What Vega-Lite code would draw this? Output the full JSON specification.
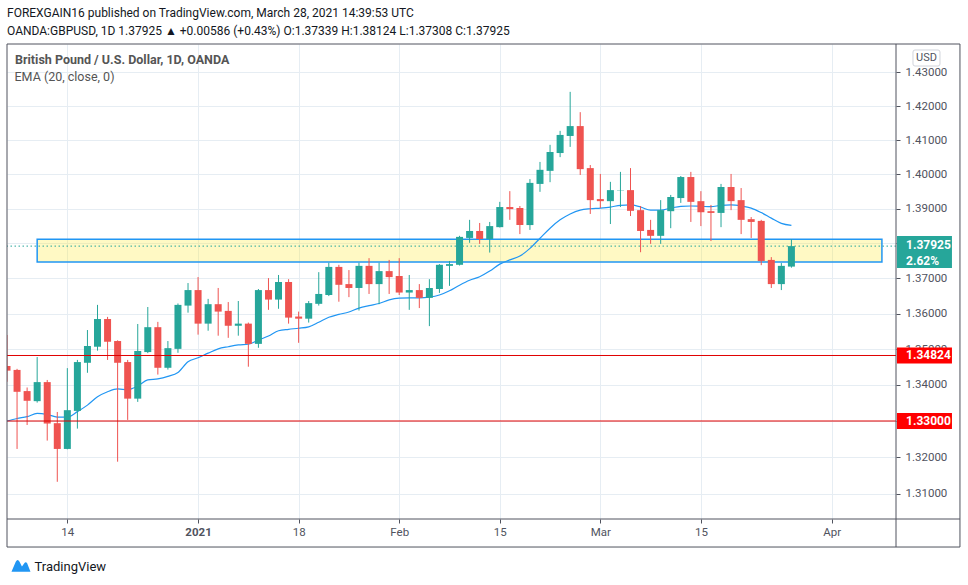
{
  "$schema": "https://vega.github.io/schema/vega-lite/v6.json",
  "width": 889,
  "height": 475,
  "autosize": {"type": "none"},
  "padding": {"left": 7, "top": 44, "right": 72, "bottom": 66},
  "background": "#ffffff",
  "config": {"view": {"stroke": null}, "font": "Roboto"},
  "title": {
    "text": "FOREXGAIN16 published on TradingView.com, March 28, 2021 14:39:53 UTC",
    "subtitle": "OANDA:GBPUSD, 1D  1.37925 ▲ +0.00586 (+0.43%) O:1.37339 H:1.38124 L:1.37308 C:1.37925",
    "anchor": "start",
    "frame": "group",
    "offset": 6,
    "font": "Roboto",
    "fontSize": 12,
    "fontWeight": "normal",
    "color": "#131722",
    "subtitleFont": "Roboto",
    "subtitleFontSize": 12,
    "subtitleFontWeight": "normal",
    "subtitleColor": "#131722",
    "subtitlePadding": 6
  },
  "datasets": {
    "zone": [{"start": -3, "end": 81, "low": 1.3747, "high": 1.3812}],
    "hlines": [{"level": 1.34824}, {"level": 1.33}],
    "tags": [{"price": 1.34824, "text": "1.34824"}, {"price": 1.33, "text": "1.33000"}],
    "one": [{}],
    "candles": [
      {"date": "2020-12-04", "i": -6, "open": 1.3453, "high": 1.3540, "low": 1.3409, "close": 1.3440},
      {"date": "2020-12-07", "i": -5, "open": 1.3442, "high": 1.3445, "low": 1.3223, "close": 1.3381},
      {"date": "2020-12-08", "i": -4, "open": 1.3383, "high": 1.3393, "low": 1.3289, "close": 1.3356},
      {"date": "2020-12-09", "i": -3, "open": 1.3355, "high": 1.3478, "low": 1.3351, "close": 1.3408},
      {"date": "2020-12-10", "i": -2, "open": 1.3408, "high": 1.3414, "low": 1.3246, "close": 1.3293},
      {"date": "2020-12-11", "i": -1, "open": 1.3294, "high": 1.3325, "low": 1.3133, "close": 1.3223},
      {"date": "2020-12-14", "i": 0, "open": 1.3223, "high": 1.3447, "low": 1.3222, "close": 1.3330},
      {"date": "2020-12-15", "i": 1, "open": 1.3328, "high": 1.3470, "low": 1.3279, "close": 1.3464},
      {"date": "2020-12-16", "i": 2, "open": 1.3462, "high": 1.3554, "low": 1.3434, "close": 1.3509},
      {"date": "2020-12-17", "i": 3, "open": 1.3507, "high": 1.3625, "low": 1.3496, "close": 1.3585},
      {"date": "2020-12-18", "i": 4, "open": 1.3585, "high": 1.3591, "low": 1.3470, "close": 1.3521},
      {"date": "2020-12-21", "i": 5, "open": 1.3523, "high": 1.3525, "low": 1.3188, "close": 1.3462},
      {"date": "2020-12-22", "i": 6, "open": 1.3464, "high": 1.3470, "low": 1.3303, "close": 1.3362},
      {"date": "2020-12-23", "i": 7, "open": 1.3362, "high": 1.3571, "low": 1.3353, "close": 1.3495},
      {"date": "2020-12-24", "i": 8, "open": 1.3492, "high": 1.3619, "low": 1.3489, "close": 1.3562},
      {"date": "2020-12-28", "i": 9, "open": 1.3562, "high": 1.3577, "low": 1.3429, "close": 1.3448},
      {"date": "2020-12-29", "i": 10, "open": 1.3448, "high": 1.3523, "low": 1.3443, "close": 1.3503},
      {"date": "2020-12-30", "i": 11, "open": 1.3501, "high": 1.3629, "low": 1.3490, "close": 1.3625},
      {"date": "2020-12-31", "i": 12, "open": 1.3623, "high": 1.3687, "low": 1.3603, "close": 1.3667},
      {"date": "2021-01-04", "i": 13, "open": 1.3667, "high": 1.3704, "low": 1.3541, "close": 1.3572},
      {"date": "2021-01-05", "i": 14, "open": 1.3572, "high": 1.3642, "low": 1.3552, "close": 1.3627},
      {"date": "2021-01-06", "i": 15, "open": 1.3627, "high": 1.3673, "low": 1.3538, "close": 1.3606},
      {"date": "2021-01-07", "i": 16, "open": 1.3608, "high": 1.3633, "low": 1.3532, "close": 1.3566},
      {"date": "2021-01-08", "i": 17, "open": 1.3566, "high": 1.3636, "low": 1.3538, "close": 1.3572},
      {"date": "2021-01-11", "i": 18, "open": 1.3572, "high": 1.3575, "low": 1.3451, "close": 1.3515},
      {"date": "2021-01-12", "i": 19, "open": 1.3515, "high": 1.3670, "low": 1.3504, "close": 1.3667},
      {"date": "2021-01-13", "i": 20, "open": 1.3667, "high": 1.3701, "low": 1.3611, "close": 1.3640},
      {"date": "2021-01-14", "i": 21, "open": 1.3640, "high": 1.3710, "low": 1.3614, "close": 1.3690},
      {"date": "2021-01-15", "i": 22, "open": 1.3690, "high": 1.3698, "low": 1.3572, "close": 1.3589},
      {"date": "2021-01-18", "i": 23, "open": 1.3592, "high": 1.3606, "low": 1.3518, "close": 1.3586},
      {"date": "2021-01-19", "i": 24, "open": 1.3586, "high": 1.3636, "low": 1.3575, "close": 1.3630},
      {"date": "2021-01-20", "i": 25, "open": 1.3628, "high": 1.3718, "low": 1.3623, "close": 1.3656},
      {"date": "2021-01-21", "i": 26, "open": 1.3653, "high": 1.3745, "low": 1.3650, "close": 1.3733},
      {"date": "2021-01-22", "i": 27, "open": 1.3733, "high": 1.3739, "low": 1.3634, "close": 1.3682},
      {"date": "2021-01-25", "i": 28, "open": 1.3684, "high": 1.3724, "low": 1.3647, "close": 1.3673},
      {"date": "2021-01-26", "i": 29, "open": 1.3673, "high": 1.3745, "low": 1.3609, "close": 1.3736},
      {"date": "2021-01-27", "i": 30, "open": 1.3736, "high": 1.3758, "low": 1.3656, "close": 1.3684},
      {"date": "2021-01-28", "i": 31, "open": 1.3684, "high": 1.3745, "low": 1.3627, "close": 1.3721},
      {"date": "2021-01-29", "i": 32, "open": 1.3721, "high": 1.3753, "low": 1.3656, "close": 1.3704},
      {"date": "2021-02-01", "i": 33, "open": 1.3707, "high": 1.3758, "low": 1.3653, "close": 1.3660},
      {"date": "2021-02-02", "i": 34, "open": 1.3660, "high": 1.3710, "low": 1.3611, "close": 1.3667},
      {"date": "2021-02-03", "i": 35, "open": 1.3667, "high": 1.3684, "low": 1.3616, "close": 1.3645},
      {"date": "2021-02-04", "i": 36, "open": 1.3645, "high": 1.3698, "low": 1.3565, "close": 1.3673},
      {"date": "2021-02-05", "i": 37, "open": 1.3670, "high": 1.3741, "low": 1.3659, "close": 1.3739},
      {"date": "2021-02-08", "i": 38, "open": 1.3736, "high": 1.3750, "low": 1.3679, "close": 1.3741},
      {"date": "2021-02-09", "i": 39, "open": 1.3739, "high": 1.3822, "low": 1.3737, "close": 1.3819},
      {"date": "2021-02-10", "i": 40, "open": 1.3816, "high": 1.3868, "low": 1.3802, "close": 1.3836},
      {"date": "2021-02-11", "i": 41, "open": 1.3836, "high": 1.3859, "low": 1.3799, "close": 1.3813},
      {"date": "2021-02-12", "i": 42, "open": 1.3813, "high": 1.3862, "low": 1.3774, "close": 1.3850},
      {"date": "2021-02-15", "i": 43, "open": 1.3847, "high": 1.3920, "low": 1.3846, "close": 1.3905},
      {"date": "2021-02-16", "i": 44, "open": 1.3905, "high": 1.3951, "low": 1.3868, "close": 1.3899},
      {"date": "2021-02-17", "i": 45, "open": 1.3902, "high": 1.3908, "low": 1.3827, "close": 1.3853},
      {"date": "2021-02-18", "i": 46, "open": 1.3853, "high": 1.3986, "low": 1.3839, "close": 1.3975},
      {"date": "2021-02-19", "i": 47, "open": 1.3972, "high": 1.4036, "low": 1.3949, "close": 1.4013},
      {"date": "2021-02-22", "i": 48, "open": 1.4010, "high": 1.4086, "low": 1.3977, "close": 1.4065},
      {"date": "2021-02-23", "i": 49, "open": 1.4062, "high": 1.4127, "low": 1.4050, "close": 1.4115},
      {"date": "2021-02-24", "i": 50, "open": 1.4112, "high": 1.4242, "low": 1.4080, "close": 1.4141},
      {"date": "2021-02-25", "i": 51, "open": 1.4141, "high": 1.4182, "low": 1.3998, "close": 1.4015},
      {"date": "2021-02-26", "i": 52, "open": 1.4018, "high": 1.4027, "low": 1.3885, "close": 1.3925},
      {"date": "2021-03-01", "i": 53, "open": 1.3928, "high": 1.4001, "low": 1.3902, "close": 1.3922},
      {"date": "2021-03-02", "i": 54, "open": 1.3922, "high": 1.3978, "low": 1.3856, "close": 1.3954},
      {"date": "2021-03-03", "i": 55, "open": 1.3953, "high": 1.4007, "low": 1.3905, "close": 1.3954},
      {"date": "2021-03-04", "i": 56, "open": 1.3954, "high": 1.4018, "low": 1.3879, "close": 1.3894},
      {"date": "2021-03-05", "i": 57, "open": 1.3896, "high": 1.3908, "low": 1.3775, "close": 1.3836},
      {"date": "2021-03-08", "i": 58, "open": 1.3839, "high": 1.3868, "low": 1.3799, "close": 1.3822},
      {"date": "2021-03-09", "i": 59, "open": 1.3822, "high": 1.3925, "low": 1.3799, "close": 1.3896},
      {"date": "2021-03-10", "i": 60, "open": 1.3893, "high": 1.3940, "low": 1.3844, "close": 1.3934},
      {"date": "2021-03-11", "i": 61, "open": 1.3931, "high": 1.3995, "low": 1.3917, "close": 1.3992},
      {"date": "2021-03-12", "i": 62, "open": 1.3992, "high": 1.4007, "low": 1.3862, "close": 1.3920},
      {"date": "2021-03-15", "i": 63, "open": 1.3922, "high": 1.3951, "low": 1.3850, "close": 1.3890},
      {"date": "2021-03-16", "i": 64, "open": 1.3893, "high": 1.3911, "low": 1.3807, "close": 1.3888},
      {"date": "2021-03-17", "i": 65, "open": 1.3888, "high": 1.3972, "low": 1.3847, "close": 1.3963},
      {"date": "2021-03-18", "i": 66, "open": 1.3963, "high": 1.4001, "low": 1.3896, "close": 1.3922},
      {"date": "2021-03-19", "i": 67, "open": 1.3925, "high": 1.3960, "low": 1.3827, "close": 1.3868},
      {"date": "2021-03-22", "i": 68, "open": 1.3870, "high": 1.3876, "low": 1.3816, "close": 1.3862},
      {"date": "2021-03-23", "i": 69, "open": 1.3865, "high": 1.3868, "low": 1.3738, "close": 1.3750},
      {"date": "2021-03-24", "i": 70, "open": 1.3753, "high": 1.3761, "low": 1.3673, "close": 1.3684},
      {"date": "2021-03-25", "i": 71, "open": 1.3684, "high": 1.3744, "low": 1.3667, "close": 1.3736},
      {"date": "2021-03-26", "i": 72, "open": 1.37339, "high": 1.38124, "low": 1.37308, "close": 1.37925}
    ],
    "ema": [
      {"i": -6, "ema": 1.3300}, {"i": -5, "ema": 1.3307}, {"i": -4, "ema": 1.3312}, {"i": -3, "ema": 1.3321},
      {"i": -2, "ema": 1.3318}, {"i": -1, "ema": 1.3311}, {"i": 0, "ema": 1.3311}, {"i": 1, "ema": 1.3326},
      {"i": 2, "ema": 1.3344}, {"i": 3, "ema": 1.3367}, {"i": 4, "ema": 1.3381}, {"i": 5, "ema": 1.3389},
      {"i": 6, "ema": 1.3387}, {"i": 7, "ema": 1.3397}, {"i": 8, "ema": 1.3414}, {"i": 9, "ema": 1.3417},
      {"i": 10, "ema": 1.3424}, {"i": 11, "ema": 1.3435}, {"i": 12, "ema": 1.3465}, {"i": 13, "ema": 1.3476},
      {"i": 14, "ema": 1.3489}, {"i": 15, "ema": 1.3501}, {"i": 16, "ema": 1.3507}, {"i": 17, "ema": 1.3512},
      {"i": 18, "ema": 1.3514}, {"i": 19, "ema": 1.3526}, {"i": 20, "ema": 1.3537}, {"i": 21, "ema": 1.3552},
      {"i": 22, "ema": 1.3556}, {"i": 23, "ema": 1.3559}, {"i": 24, "ema": 1.3563}, {"i": 25, "ema": 1.3576},
      {"i": 26, "ema": 1.3590}, {"i": 27, "ema": 1.3598}, {"i": 28, "ema": 1.3605}, {"i": 29, "ema": 1.3616},
      {"i": 30, "ema": 1.3623}, {"i": 31, "ema": 1.3629}, {"i": 32, "ema": 1.3639}, {"i": 33, "ema": 1.3644},
      {"i": 34, "ema": 1.3645}, {"i": 35, "ema": 1.3645}, {"i": 36, "ema": 1.3647}, {"i": 37, "ema": 1.3653},
      {"i": 38, "ema": 1.3665}, {"i": 39, "ema": 1.3681}, {"i": 40, "ema": 1.3695}, {"i": 41, "ema": 1.3705},
      {"i": 42, "ema": 1.3721}, {"i": 43, "ema": 1.3741}, {"i": 44, "ema": 1.3753}, {"i": 45, "ema": 1.3764},
      {"i": 46, "ema": 1.3786}, {"i": 47, "ema": 1.3815}, {"i": 48, "ema": 1.3844}, {"i": 49, "ema": 1.3868},
      {"i": 50, "ema": 1.3885}, {"i": 51, "ema": 1.3896}, {"i": 52, "ema": 1.3900}, {"i": 53, "ema": 1.3902},
      {"i": 54, "ema": 1.3905}, {"i": 55, "ema": 1.3910}, {"i": 56, "ema": 1.3911}, {"i": 57, "ema": 1.3905},
      {"i": 58, "ema": 1.3896}, {"i": 59, "ema": 1.3896}, {"i": 60, "ema": 1.3902}, {"i": 61, "ema": 1.3907},
      {"i": 62, "ema": 1.3908}, {"i": 63, "ema": 1.3907}, {"i": 64, "ema": 1.3906}, {"i": 65, "ema": 1.3910},
      {"i": 66, "ema": 1.3911}, {"i": 67, "ema": 1.3908}, {"i": 68, "ema": 1.3902}, {"i": 69, "ema": 1.3889},
      {"i": 70, "ema": 1.3873}, {"i": 71, "ema": 1.3858}, {"i": 72, "ema": 1.3852}
    ]
  },
  "layer": [
    {
      "data": {"name": "zone"},
      "mark": {"type": "rect", "fill": "#ffeb3b", "fillOpacity": 0.3, "stroke": "#2196f3", "strokeWidth": 1.5},
      "encoding": {
        "x": {
          "field": "start", "type": "quantitative",
          "scale": {"domain": [-6, 82.4], "nice": false, "zero": false, "padding": 0},
          "axis": {
            "values": [0, 13, 23, 33, 43, 53, 63, 76],
            "labelExpr": "datum.value == 0 ? '14' : datum.value == 13 ? '2021' : datum.value == 23 ? '18' : datum.value == 33 ? 'Feb' : datum.value == 43 ? '15' : datum.value == 53 ? 'Mar' : datum.value == 63 ? '15' : 'Apr'",
            "grid": true, "gridColor": "#e6edf3", "domain": false,
            "tickSize": 4, "tickColor": "#50535e",
            "labelFont": "Roboto", "labelFontSize": 11.5, "labelColor": "#50535e", "labelPadding": 3,
            "labelFontWeight": {"condition": {"test": "datum.value == 13", "value": "bold"}, "value": "normal"},
            "labelOverlap": false, "labelFlush": false,
            "title": "TradingView", "titleX": 27, "titleY": 47, "titleAlign": "left", "titleBaseline": "middle",
            "titleFont": "Roboto", "titleFontSize": 13, "titleFontWeight": "normal", "titleColor": "#131722"
          }
        },
        "x2": {"field": "end"},
        "y": {
          "field": "low", "type": "quantitative",
          "scale": {"type": "log", "domain": [1.30318, 1.43844], "nice": false},
          "axis": {
            "orient": "right",
            "values": [1.31, 1.32, 1.33, 1.34, 1.35, 1.36, 1.37, 1.38, 1.39, 1.4, 1.41, 1.42, 1.43],
            "labelExpr": "datum.value == 1.33 || datum.value == 1.38 ? '' : format(datum.value, '.5f')",
            "grid": true, "gridColor": "#e6edf3", "domain": false,
            "tickSize": 4, "tickColor": "#50535e",
            "labelFont": "Roboto", "labelFontSize": 11.5, "labelColor": "#50535e", "labelPadding": 5,
            "labelOverlap": false, "labelFlush": false, "title": null
          }
        },
        "y2": {"field": "high"}
      }
    },
    {
      "data": {"name": "one"},
      "mark": {"type": "rule", "stroke": "#26a69a", "strokeWidth": 1, "strokeDash": [1.5, 2.5]},
      "encoding": {"y": {"datum": 1.37925, "type": "quantitative"}}
    },
    {
      "data": {"name": "ema"},
      "mark": {"type": "line", "strokeWidth": 1.2, "clip": true, "interpolate": "monotone"},
      "encoding": {
        "x": {"field": "i", "type": "quantitative"},
        "y": {"field": "ema", "type": "quantitative"},
        "color": {
          "datum": "EMA (20, close, 0)",
          "scale": {"range": ["#2196f3"]},
          "legend": {
            "orient": "none", "legendX": 8, "legendY": 10, "padding": 0,
            "title": "British Pound / U.S. Dollar, 1D, OANDA",
            "titleFont": "Roboto", "titleFontSize": 12.5, "titleFontWeight": "bold", "titleColor": "#555555", "titlePadding": 4, "titleLimit": 500,
            "labelFont": "Roboto", "labelFontSize": 12.5, "labelColor": "#555555", "labelLimit": 400,
            "symbolSize": 0, "symbolOpacity": 0, "symbolStrokeWidth": 0, "labelOffset": -13
          }
        }
      }
    },
    {
      "data": {"name": "candles"},
      "mark": {"type": "rule", "strokeWidth": 1, "clip": true},
      "encoding": {
        "x": {"field": "i", "type": "quantitative"},
        "y": {"field": "low", "type": "quantitative"},
        "y2": {"field": "high"},
        "color": {"condition": {"test": "datum.close >= datum.open", "value": "#26a69a"}, "value": "#ef5350"}
      }
    },
    {
      "data": {"name": "candles"},
      "mark": {"type": "bar", "width": 7, "clip": true},
      "encoding": {
        "x": {"field": "i", "type": "quantitative"},
        "y": {"field": "open", "type": "quantitative"},
        "y2": {"field": "close"},
        "color": {"condition": {"test": "datum.close >= datum.open", "value": "#26a69a"}, "value": "#ef5350"}
      }
    },
    {
      "data": {"name": "hlines"},
      "mark": {"type": "rule", "stroke": "#e00000", "strokeWidth": 1},
      "encoding": {"y": {"field": "level", "type": "quantitative"}}
    },
    {
      "data": {"name": "one"},
      "mark": {"type": "rect", "fillOpacity": 0, "stroke": "#50535e", "strokeWidth": 1},
      "encoding": {
        "x": {"datum": -6, "type": "quantitative"}, "x2": {"datum": 88.76},
        "y": {"datum": 1.29561, "type": "quantitative"}, "y2": {"datum": 1.43844}
      }
    },
    {
      "data": {"name": "one"},
      "mark": {"type": "rule", "stroke": "#50535e", "strokeWidth": 1},
      "encoding": {
        "x": {"datum": 82.4, "type": "quantitative"},
        "y": {"datum": 1.29561, "type": "quantitative"}, "y2": {"datum": 1.43844}
      }
    },
    {
      "data": {"name": "one"},
      "mark": {"type": "rule", "stroke": "#50535e", "strokeWidth": 1},
      "encoding": {
        "x": {"datum": -6, "type": "quantitative"}, "x2": {"datum": 88.76},
        "y": {"datum": 1.30318, "type": "quantitative"}
      }
    },
    {
      "data": {"name": "tags"},
      "mark": {"type": "point", "shape": "M-1,-0.291H1V0.291H-1Z", "size": 3025, "filled": true, "fill": "#ff0000", "opacity": 1, "strokeWidth": 0},
      "encoding": {
        "x": {"datum": 85.23, "type": "quantitative"},
        "y": {"field": "price", "type": "quantitative"}
      }
    },
    {
      "data": {"name": "tags"},
      "mark": {"type": "text", "align": "left", "baseline": "middle", "font": "Roboto", "fontSize": 12, "fontWeight": "bold", "fill": "#ffffff"},
      "encoding": {
        "x": {"datum": 83.4, "type": "quantitative"},
        "y": {"field": "price", "type": "quantitative"},
        "text": {"field": "text"}
      }
    },
    {
      "data": {"name": "one"},
      "mark": {"type": "point", "shape": "M-1,-0.582H1V0.582H-1Z", "size": 3025, "filled": true, "fill": "#26a69a", "opacity": 1, "strokeWidth": 0},
      "encoding": {
        "x": {"datum": 85.23, "type": "quantitative"},
        "y": {"datum": 1.37756, "type": "quantitative"}
      }
    },
    {
      "data": {"name": "one"},
      "mark": {"type": "text", "align": "left", "baseline": "middle", "font": "Roboto", "fontSize": 12, "fontWeight": "bold", "fill": "#ffffff", "dy": -1},
      "encoding": {
        "x": {"datum": 83.4, "type": "quantitative"},
        "y": {"datum": 1.37925, "type": "quantitative"},
        "text": {"value": "1.37925"}
      }
    },
    {
      "data": {"name": "one"},
      "mark": {"type": "text", "align": "left", "baseline": "middle", "font": "Roboto", "fontSize": 12, "fontWeight": "bold", "fill": "#ffffff", "dy": 15},
      "encoding": {
        "x": {"datum": 83.4, "type": "quantitative"},
        "y": {"datum": 1.37925, "type": "quantitative"},
        "text": {"value": "2.62%"}
      }
    },
    {
      "data": {"name": "one"},
      "mark": {"type": "point", "shape": "M-0.85,-0.593H0.85Q1,-0.593 1,-0.443V0.443Q1,0.593 0.85,0.593H-0.85Q-1,0.593 -1,0.443V-0.443Q-1,-0.593 -0.85,-0.593Z", "size": 729, "filled": true, "fill": "#ffffff", "stroke": "#d1d4dc", "strokeWidth": 1, "opacity": 1},
      "encoding": {
        "x": {"datum": 85.43, "type": "quantitative"},
        "y": {"datum": 1.43426, "type": "quantitative"}
      }
    },
    {
      "data": {"name": "one"},
      "mark": {"type": "text", "align": "center", "baseline": "middle", "font": "Roboto", "fontSize": 11, "fill": "#50535e"},
      "encoding": {
        "x": {"datum": 85.43, "type": "quantitative"},
        "y": {"datum": 1.43426, "type": "quantitative"},
        "text": {"value": "USD"}
      }
    },
    {
      "data": {"name": "one"},
      "mark": {"type": "point", "shape": "M-1,0.6L-0.55,-0.45Q-0.35,-0.8 -0.15,-0.45L0.1,0.05L0.35,-0.3Q0.5,-0.5 0.65,-0.3L1,0.6Z", "size": 361, "filled": true, "fill": "#2196f3", "opacity": 1, "strokeWidth": 0},
      "encoding": {
        "x": {"datum": -4.61, "type": "quantitative"},
        "y": {"datum": 1.2905, "type": "quantitative"}
      }
    }
  ]
}
